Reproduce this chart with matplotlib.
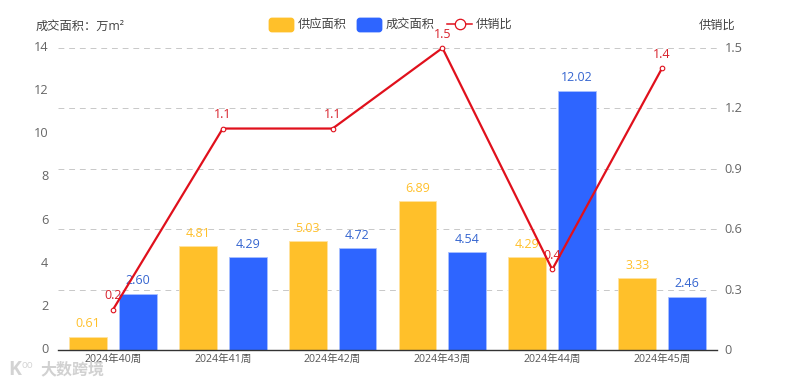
import matplotlib
matplotlib.use("Agg")
import matplotlib.pyplot as plt
import numpy as np
from matplotlib.lines import Line2D
from matplotlib.patches import FancyBboxPatch
from matplotlib.transforms import IdentityTransform, ScaledTranslation

plt.rcParams['font.family'] = ['Open Sans', 'Noto Sans CJK SC', 'DejaVu Sans']

weeks = ["2024年40周", "2024年41周", "2024年42周", "2024年43周", "2024年44周", "2024年45周"]
supply = [0.61, 4.81, 5.03, 6.89, 4.29, 3.33]
deal = [2.60, 4.29, 4.72, 4.54, 12.02, 2.46]
ratio = [0.2, 1.1, 1.1, 1.5, 0.4, 1.4]
left_ticks = [0, 2, 4, 6, 8, 10, 12, 14]
right_ticks = [0, 0.3, 0.6, 0.9, 1.2, 1.5]

YELLOW = "#FFC02A"
BLUE = "#2E65FF"
RED = "#E0101C"
W, H = 786, 386


def px(x, y):
    # pixel position measured from the top left of the picture
    return x, H - y


fig = plt.figure(figsize=(W / 100, H / 100), dpi=100)
ax = fig.add_axes([58 / W, (H - 350) / H, 659 / W, 302 / H])
ax2 = ax.twinx()
ax.set_zorder(1)
ax2.set_zorder(2)
ax2.patch.set_visible(False)

x = np.arange(len(weeks))
ax.bar(x - 0.227, supply, 0.345, color=YELLOW, edgecolor="#FFE3A0", linewidth=0.6)
ax.bar(x + 0.227, deal, 0.345, color=BLUE, edgecolor="#A9C0FF", linewidth=0.6)
ax.set_xlim(-0.5, 5.5)
ax.set_ylim(0, 14)
ax.set_yticks(left_ticks)
ax.set_xticks(x)
ax.set_xticklabels(weeks, fontsize=7.6, color="#555555")
ax.tick_params(axis="x", length=0, pad=3)
ax.tick_params(axis="y", length=0, pad=7, labelsize=9.2, labelcolor="#666666")
for s in ["top", "left", "right"]:
    ax.spines[s].set_visible(False)
ax.spines["bottom"].set_color("#333333")
ax.spines["bottom"].set_linewidth(1)

for i in x:
    ax.annotate(f"{supply[i]:.2f}", (i - 0.227, supply[i]), xytext=(0, 13), textcoords="offset pixels",
                ha="center", va="center", fontsize=9, color=YELLOW)
    ax.annotate(f"{deal[i]:.2f}", (i + 0.227, deal[i]), xytext=(0, 13), textcoords="offset pixels",
                ha="center", va="center", fontsize=9, color="#3565D0")

ax2.set_ylim(0, 1.5)
ax2.set_yticks(right_ticks)
ax2.set_yticklabels(["0", "0.3", "0.6", "0.9", "1.2", "1.5"])
ax2.tick_params(axis="y", length=0, pad=7, labelsize=9.2, labelcolor="#666666")
for s in ["top", "left", "right", "bottom"]:
    ax2.spines[s].set_visible(False)

# tick labels sit a little above their values in the reference
for t in ax.get_yticklabels():
    t.set_transform(t.get_transform() + ScaledTranslation(0, 2 / 100, fig.dpi_scale_trans))
for t in ax2.get_yticklabels():
    t.set_transform(t.get_transform() + ScaledTranslation(-2 / 100, 1 / 100, fig.dpi_scale_trans))

# grid follows the right axis and sits behind the bars
for v in right_ticks[1:]:
    ax.axhline(v * 14 / 1.5, color="#C8C8C8", linewidth=0.7, dashes=(6, 5), zorder=0.5)

ax2.plot(x, ratio, color=RED, linewidth=1.6, marker="o", markersize=3.3,
         markerfacecolor="white", markeredgecolor=RED, markeredgewidth=0.8, zorder=5, clip_on=False)
for i in x:
    ax2.annotate(f"{ratio[i]}", (i, ratio[i]), xytext=(0, 14), textcoords="offset pixels",
                 ha="center", va="center", fontsize=9, color="#D8222C", zorder=4)

# axis titles
fig.text(36 / W, (H - 26) / H, "成交面积：万m²", fontsize=8.8, color="#444444", va="center")
fig.text(699 / W, (H - 25) / H, "供销比", fontsize=8.8, color="#444444", va="center")

# legend
for x0, col in [(269, YELLOW), (357, BLUE)]:
    fig.add_artist(FancyBboxPatch(px(x0 + 1, 31), 23, 12, boxstyle="round,pad=0,rounding_size=2",
                                  mutation_aspect=1, linewidth=2, edgecolor=col, facecolor=col,
                                  joinstyle="round", transform=IdentityTransform()))
fig.add_artist(Line2D([447, 472], [H - 24, H - 24], color=RED, linewidth=1.1, transform=IdentityTransform()))
fig.add_artist(Line2D([459.5], [H - 24], marker="o", markersize=7.5, markerfacecolor="white",
                      markeredgecolor=RED, markeredgewidth=0.9, transform=IdentityTransform()))
for x0, s in [(298, "供应面积"), (386, "成交面积"), (476, "供销比")]:
    fig.text(x0 / W, (H - 24) / H, s, fontsize=8.8, color="#444444", va="center")

# watermark
fig.text(8 / W, (H - 370) / H, "K", fontsize=14, color="#CFCFCF", va="center", alpha=0.9, fontweight="bold")
fig.text(21 / W, (H - 365) / H, "oo", fontsize=7, color="#CFCFCF", va="center", alpha=0.9)
fig.text(40 / W, (H - 371) / H, "大数跨境", fontsize=11.5, color="#CCCCCC", va="center", alpha=0.9, fontweight="bold")

fig.savefig("out.png", dpi=100)
